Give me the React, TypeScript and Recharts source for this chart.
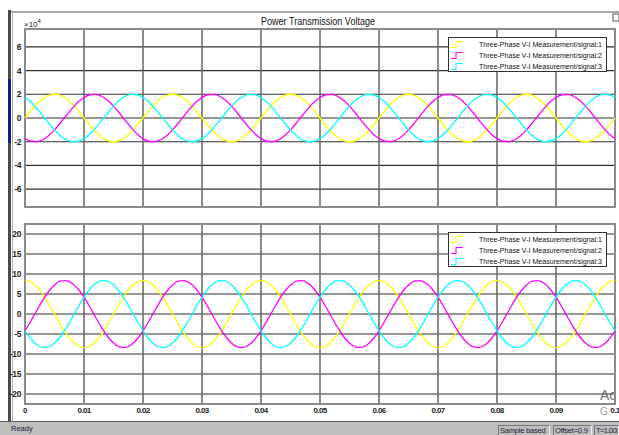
import { LineChart, Line, XAxis, YAxis, CartesianGrid, ReferenceArea, Legend } from 'recharts';

// scope sample time (s)
const sampleStep = 0.001;

const timeTicks = [0, 0.01, 0.02, 0.03, 0.04, 0.05, 0.06, 0.07, 0.08, 0.09, 0.1];
const topTicks = [-6, -4, -2, 0, 2, 4, 6];
const bottomTicks = [-20, -15, -10, -5, 0, 5, 10, 15, 20];

const signalNames = [
    'Three-Phase V-I Measurement/signal:1',
    'Three-Phase V-I Measurement/signal:2',
    'Three-Phase V-I Measurement/signal:3',
];
const signalColors = ['#ffff00', '#ff00ff', '#00ffff'];

// upper scope, values in x10^4 V
const topSignal1 = [
    0, 0.62, 1.18, 1.62, 1.9, 2, 1.9, 1.62, 1.18, 0.62, 0, -0.62, -1.18, -1.62, -1.9, -2, -1.9, -1.62, -1.18, -0.62,
    0, 0.62, 1.18, 1.62, 1.9, 2, 1.9, 1.62, 1.18, 0.62, 0, -0.62, -1.18, -1.62, -1.9, -2, -1.9, -1.62, -1.18, -0.62,
    0, 0.62, 1.18, 1.62, 1.9, 2, 1.9, 1.62, 1.18, 0.62, 0, -0.62, -1.18, -1.62, -1.9, -2, -1.9, -1.62, -1.18, -0.62,
    0, 0.62, 1.18, 1.62, 1.9, 2, 1.9, 1.62, 1.18, 0.62, 0, -0.62, -1.18, -1.62, -1.9, -2, -1.9, -1.62, -1.18, -0.62,
    0, 0.62, 1.18, 1.62, 1.9, 2, 1.9, 1.62, 1.18, 0.62, 0, -0.62, -1.18, -1.62, -1.9, -2, -1.9, -1.62, -1.18, -0.62,
    0,
];
const topSignal2 = [
    -1.73, -1.96, -1.99, -1.83, -1.49, -1, -0.42, 0.21, 0.81, 1.34, 1.73, 1.96, 1.99, 1.83, 1.49, 1, 0.42, -0.21, -0.81, -1.34,
    -1.73, -1.96, -1.99, -1.83, -1.49, -1, -0.42, 0.21, 0.81, 1.34, 1.73, 1.96, 1.99, 1.83, 1.49, 1, 0.42, -0.21, -0.81, -1.34,
    -1.73, -1.96, -1.99, -1.83, -1.49, -1, -0.42, 0.21, 0.81, 1.34, 1.73, 1.96, 1.99, 1.83, 1.49, 1, 0.42, -0.21, -0.81, -1.34,
    -1.73, -1.96, -1.99, -1.83, -1.49, -1, -0.42, 0.21, 0.81, 1.34, 1.73, 1.96, 1.99, 1.83, 1.49, 1, 0.42, -0.21, -0.81, -1.34,
    -1.73, -1.96, -1.99, -1.83, -1.49, -1, -0.42, 0.21, 0.81, 1.34, 1.73, 1.96, 1.99, 1.83, 1.49, 1, 0.42, -0.21, -0.81, -1.34,
    -1.73,
];
const topSignal3 = [
    1.73, 1.34, 0.81, 0.21, -0.42, -1, -1.49, -1.83, -1.99, -1.96, -1.73, -1.34, -0.81, -0.21, 0.42, 1, 1.49, 1.83, 1.99, 1.96,
    1.73, 1.34, 0.81, 0.21, -0.42, -1, -1.49, -1.83, -1.99, -1.96, -1.73, -1.34, -0.81, -0.21, 0.42, 1, 1.49, 1.83, 1.99, 1.96,
    1.73, 1.34, 0.81, 0.21, -0.42, -1, -1.49, -1.83, -1.99, -1.96, -1.73, -1.34, -0.81, -0.21, 0.42, 1, 1.49, 1.83, 1.99, 1.96,
    1.73, 1.34, 0.81, 0.21, -0.42, -1, -1.49, -1.83, -1.99, -1.96, -1.73, -1.34, -0.81, -0.21, 0.42, 1, 1.49, 1.83, 1.99, 1.96,
    1.73, 1.34, 0.81, 0.21, -0.42, -1, -1.49, -1.83, -1.99, -1.96, -1.73, -1.34, -0.81, -0.21, 0.42, 1, 1.49, 1.83, 1.99, 1.96,
    1.73,
];

// lower scope, currents
const bottomSignal1 = [
    8.4, 7.99, 6.8, 4.94, 2.6, 0, -2.6, -4.94, -6.8, -7.99, -8.4, -7.99, -6.8, -4.94, -2.6, 0, 2.6, 4.94, 6.8, 7.99,
    8.4, 7.99, 6.8, 4.94, 2.6, 0, -2.6, -4.94, -6.8, -7.99, -8.4, -7.99, -6.8, -4.94, -2.6, 0, 2.6, 4.94, 6.8, 7.99,
    8.4, 7.99, 6.8, 4.94, 2.6, 0, -2.6, -4.94, -6.8, -7.99, -8.4, -7.99, -6.8, -4.94, -2.6, 0, 2.6, 4.94, 6.8, 7.99,
    8.4, 7.99, 6.8, 4.94, 2.6, 0, -2.6, -4.94, -6.8, -7.99, -8.4, -7.99, -6.8, -4.94, -2.6, 0, 2.6, 4.94, 6.8, 7.99,
    8.4, 7.99, 6.8, 4.94, 2.6, 0, -2.6, -4.94, -6.8, -7.99, -8.4, -7.99, -6.8, -4.94, -2.6, 0, 2.6, 4.94, 6.8, 7.99,
    8.4,
];
const bottomSignal2 = [
    -4.2, -1.75, 0.88, 3.42, 5.62, 7.27, 8.22, 8.36, 7.68, 6.24, 4.2, 1.75, -0.88, -3.42, -5.62, -7.27, -8.22, -8.36, -7.68, -6.24,
    -4.2, -1.75, 0.88, 3.42, 5.62, 7.27, 8.22, 8.36, 7.68, 6.24, 4.2, 1.75, -0.88, -3.42, -5.62, -7.27, -8.22, -8.36, -7.68, -6.24,
    -4.2, -1.75, 0.88, 3.42, 5.62, 7.27, 8.22, 8.36, 7.68, 6.24, 4.2, 1.75, -0.88, -3.42, -5.62, -7.27, -8.22, -8.36, -7.68, -6.24,
    -4.2, -1.75, 0.88, 3.42, 5.62, 7.27, 8.22, 8.36, 7.68, 6.24, 4.2, 1.75, -0.88, -3.42, -5.62, -7.27, -8.22, -8.36, -7.68, -6.24,
    -4.2, -1.75, 0.88, 3.42, 5.62, 7.27, 8.22, 8.36, 7.68, 6.24, 4.2, 1.75, -0.88, -3.42, -5.62, -7.27, -8.22, -8.36, -7.68, -6.24,
    -4.2,
];
const bottomSignal3 = [
    -4.2, -6.24, -7.68, -8.36, -8.22, -7.27, -5.62, -3.42, -0.88, 1.75, 4.2, 6.24, 7.68, 8.36, 8.22, 7.27, 5.62, 3.42, 0.88, -1.75,
    -4.2, -6.24, -7.68, -8.36, -8.22, -7.27, -5.62, -3.42, -0.88, 1.75, 4.2, 6.24, 7.68, 8.36, 8.22, 7.27, 5.62, 3.42, 0.88, -1.75,
    -4.2, -6.24, -7.68, -8.36, -8.22, -7.27, -5.62, -3.42, -0.88, 1.75, 4.2, 6.24, 7.68, 8.36, 8.22, 7.27, 5.62, 3.42, 0.88, -1.75,
    -4.2, -6.24, -7.68, -8.36, -8.22, -7.27, -5.62, -3.42, -0.88, 1.75, 4.2, 6.24, 7.68, 8.36, 8.22, 7.27, 5.62, 3.42, 0.88, -1.75,
    -4.2, -6.24, -7.68, -8.36, -8.22, -7.27, -5.62, -3.42, -0.88, 1.75, 4.2, 6.24, 7.68, 8.36, 8.22, 7.27, 5.62, 3.42, 0.88, -1.75,
    -4.2,
];

const topData = topSignal1.map((v, i) => ({
    t: +(i * sampleStep).toFixed(3),
    s1: v,
    s2: topSignal2[i],
    s3: topSignal3[i],
}));
const bottomData = bottomSignal1.map((v, i) => ({
    t: +(i * sampleStep).toFixed(3),
    s1: v,
    s2: bottomSignal2[i],
    s3: bottomSignal3[i],
}));

const FONT = '"Liberation Sans", Arial, sans-serif';

const YTick = ({ x, y, payload }: any) => (
    <text x={x} y={y} dy={3} textAnchor="end" fontSize={8.5} fontWeight="bold" fill="#222" fontFamily={FONT} letterSpacing={-0.4}>
        {payload.value}
    </text>
);

const XTick = ({ x, y, payload }: any) => (
    <text x={x} y={y} dy={7} textAnchor="middle" fontSize={8} fontWeight="bold" fill="#222" fontFamily={FONT} letterSpacing={-0.6}>
        {String(payload.value)}
    </text>
);

const ScopeLegend = ({ payload }: any) => (
    <svg width={160} height={36} style={{ display: 'block', overflow: 'visible' }}>
        <rect x={0.5} y={0.5} width={158} height={34} fill="#fff" stroke="#333" />
        {(payload || []).map((p: any, i: number) => {
            const cy = 6.5 + i * 11;
            return (
                <g key={i}>
                    <path d={`M3 ${cy + 4} H8 V${cy - 2} H15`} stroke={p.color} fill="none" strokeWidth={1.1} />
                    <text x={31} y={cy + 3} fontSize={7.5} fill="#111" fontFamily={FONT} textLength={123} lengthAdjust="spacingAndGlyphs">
                        {p.value}
                    </text>
                </g>
            );
        })}
    </svg>
);

const ScopeLines = () => (
    <>
        {signalNames.map((name, i) => (
            <Line
                key={name}
                type="monotone"
                dataKey={`s${i + 1}`}
                name={name}
                stroke={signalColors[i]}
                strokeWidth={1.3}
                dot={false}
                isAnimationActive={false}
            />
        ))}
    </>
);

const App = () => {
    return (
        <div style={{ position: 'absolute', left: 0, top: 0, width: 619, height: 435, background: '#fff', overflow: 'hidden', fontFamily: FONT }}>
            {/* window chrome */}
            <svg width={619} height={435} style={{ position: 'absolute', left: 0, top: 0 }}>
                <line x1={11} y1={12} x2={619} y2={12} stroke="#8c8c8c" strokeWidth={1.5} />
                <rect x={8} y={10} width={3} height={412} fill="#4a4a4a" />
                <rect x={8} y={79} width={3} height={64} fill="#0b1f8f" />
                <line x1={12.5} y1={12} x2={12.5} y2={421} stroke="#b0b0b0" />
                <rect x={613} y={14} width={6} height={7} fill="#fff" stroke="#555" />
                <text x={318} y={25} textAnchor="middle" fontSize={10} fill="#111" fontFamily={FONT} textLength={114} lengthAdjust="spacingAndGlyphs">
                    Power Transmission Voltage
                </text>
                <text x={24} y={27} fontSize={8} fill="#222" fontFamily={FONT}>
                    ×10
                    <tspan fontSize={6} dy={-4}>4</tspan>
                </text>
                <text x={600} y={400} fontSize={14} fill="#7a7a7a" fontFamily={FONT}>Ac</text>
                <text x={600} y={415} fontSize={10} fill="#9a9a9a" fontFamily={FONT}>G</text>
            </svg>

            <div style={{ position: 'absolute', left: 0, top: 0 }}>
                <LineChart width={619} height={215} data={topData} margin={{ top: 29, right: 4, bottom: 8, left: 0 }}>
                    <CartesianGrid vertical={false} stroke="#2e2e2e" strokeWidth={1.2} />
                    <CartesianGrid horizontal={false} stroke="#666" strokeWidth={1.5} />
                    <XAxis dataKey="t" type="number" domain={[0, 0.1]} ticks={timeTicks} hide />
                    <YAxis
                        type="number"
                        domain={[-7.5, 7.5]}
                        ticks={topTicks}
                        interval={0}
                        width={25}
                        axisLine={false}
                        tickLine={false}
                        tickSize={0}
                        tickMargin={4}
                        tick={<YTick />}
                        allowDataOverflow
                    />
                    {ScopeLines()}
                    <ReferenceArea x1={0} x2={0.1} y1={-7.5} y2={7.5} fill="none" stroke="#8a8a8a" strokeWidth={2} ifOverflow="visible" />
                    <Legend
                        layout="vertical"
                        align="center"
                        verticalAlign="middle"
                        content={<ScopeLegend />}
                        wrapperStyle={{ position: 'absolute', left: 448, top: 37, width: 160, height: 36 }}
                    />
                </LineChart>
            </div>

            <div style={{ position: 'absolute', left: 0, top: 210 }}>
                <LineChart width={619} height={214} data={bottomData} margin={{ top: 14, right: 4, bottom: 0, left: 0 }}>
                    <CartesianGrid vertical={false} stroke="#2e2e2e" strokeWidth={1.2} />
                    <CartesianGrid horizontal={false} stroke="#666" strokeWidth={1.5} />
                    <XAxis
                        dataKey="t"
                        type="number"
                        domain={[0, 0.1]}
                        ticks={timeTicks}
                        height={20}
                        axisLine={false}
                        tickLine={false}
                        tickSize={0}
                        tickMargin={2}
                        tick={<XTick />}
                        interval={0}
                    />
                    <YAxis
                        type="number"
                        domain={[-22.5, 22.5]}
                        ticks={bottomTicks}
                        interval={0}
                        width={25}
                        axisLine={false}
                        tickLine={false}
                        tickSize={0}
                        tickMargin={4}
                        tick={<YTick />}
                        allowDataOverflow
                    />
                    {ScopeLines()}
                    <ReferenceArea x1={0} x2={0.1} y1={-22.5} y2={22.5} fill="none" stroke="#8a8a8a" strokeWidth={2} ifOverflow="visible" />
                    <Legend
                        layout="vertical"
                        align="center"
                        verticalAlign="middle"
                        content={<ScopeLegend />}
                        wrapperStyle={{ position: 'absolute', left: 448, top: 21.5, width: 160, height: 36 }}
                    />
                </LineChart>
            </div>

            {/* status bar */}
            <div style={{ position: 'absolute', left: 0, top: 421, width: 619, height: 14, background: '#bdbdbd', borderTop: '1px solid #5a5a5a', fontSize: 7.5, color: '#1a1a3a' }}>
                <span style={{ position: 'absolute', left: 11, top: 2 }}>Ready</span>
                {[
                    { label: 'Sample based', left: 498, width: 52, spacing: -0.2 },
                    { label: 'Offset=0.9', left: 553, width: 39, spacing: -0.2 },
                    { label: 'T=1.000', left: 594, width: 25, spacing: -0.6 },
                ].map((b) => (
                    <span
                        key={b.label}
                        style={{
                            position: 'absolute',
                            left: b.left,
                            top: 3,
                            width: b.width,
                            height: 10,
                            lineHeight: '10px',
                            borderTop: '1px solid #777',
                            borderLeft: '1px solid #777',
                            borderRight: '1px solid #eee',
                            paddingLeft: 1,
                            boxSizing: 'border-box',
                            whiteSpace: 'nowrap',
                            letterSpacing: b.spacing,
                            overflow: 'hidden',
                        }}
                    >
                        {b.label}
                    </span>
                ))}
            </div>
        </div>
    );
};

export default App;
